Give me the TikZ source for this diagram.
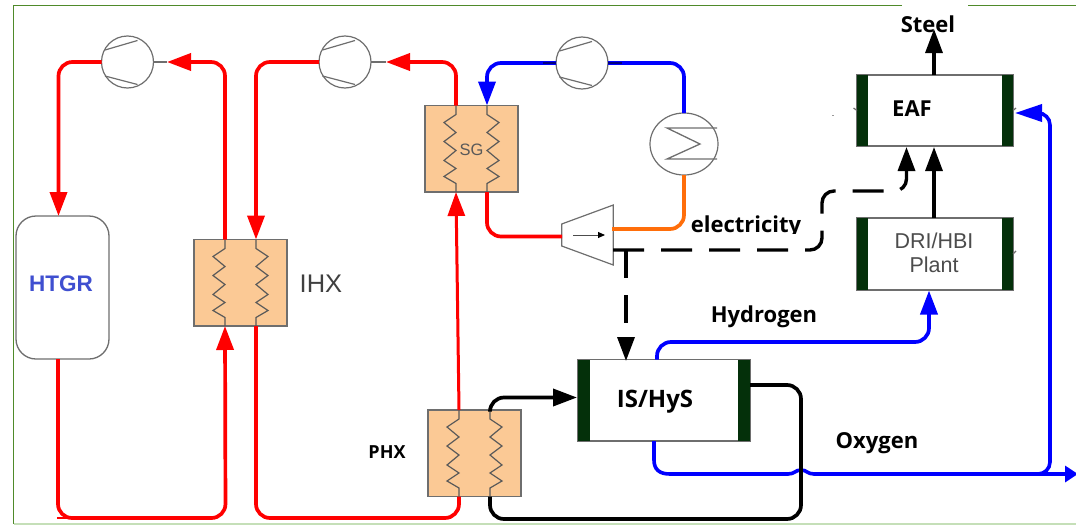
\documentclass[tikz,border=0pt]{standalone}
\usepackage{fontspec}
\setmainfont{Liberation Sans}
\newfontfamily\labfont{Open Sans}
\usetikzlibrary{arrows.meta,calc,shapes.geometric}
\definecolor{hxfill}{HTML}{FBC995}
\definecolor{edgegray}{HTML}{6E6E6E}
\definecolor{barg}{HTML}{04300A}
\definecolor{framegreen}{HTML}{4F8A2A}
\definecolor{framelight}{HTML}{C5DFB8}
\definecolor{htgrblue}{HTML}{3F4FD0}
\tikzset{
  x=1pt,y=-1pt,
  bigtip/.style={-{Triangle[length=24pt,width=17pt]}},
  pipe/.style={line width=3.7pt,rounded corners=14pt},
  redp/.style={pipe,draw=red},
  bluep/.style={pipe,draw=blue},
  orangep/.style={pipe,draw={rgb,255:red,255;green,110;blue,10}},
  blackp/.style={pipe,draw=black},
  dashp/.style={line width=3.4pt,draw=black,dash pattern=on 31pt off 17pt,rounded corners=12pt},
  hxbox/.style={draw=edgegray,fill=hxfill,line width=1.3pt,minimum width=93pt,minimum height=86.5pt,inner sep=0pt,outer sep=0pt},
  coilline/.style={draw=black!65,line width=1.2pt,line join=miter},
  compc/.style={circle,draw=edgegray,line width=1.2pt,minimum size=52pt,inner sep=0pt,outer sep=0pt},
  reactor/.style={draw=edgegray,fill=white,line width=1.3pt,inner sep=0pt,outer sep=0pt},
  boldlab/.style={font=\labfont\bfseries\fontsize{22}{25}\selectfont,text=black,inner sep=0pt},
  stub/.style={draw=edgegray,line width=1.2pt},
}
\newcommand{\hxunit}[3]{%
  \begin{scope}[shift={(#2,#3)}]
    \node[hxbox] (#1) at (46.5,43.25) {};
    \coordinate (#1tl) at (31,0);
    \coordinate (#1tr) at (62,0);
    \coordinate (#1bl) at (31,86.5);
    \coordinate (#1br) at (62,86.5);
    \draw[coilline] (31,0)--(31,9)--(19,17)--(31,27)--(19,36)--(31,45)--(19,55)--(31,63)--(19,71)--(31,78)--(31,86.5);
    \draw[coilline] (62,0)--(62,9)--(74,17)--(62,27)--(74,36)--(62,45)--(74,55)--(62,63)--(74,71)--(62,78)--(62,86.5);
  \end{scope}}
\newcommand{\compunit}[3]{%
  \node[compc] (#1) at (#2,#3) {};
  \begin{scope}[shift={(#2,#3)}]
    \draw[edgegray,line width=1.2pt] (-22.5,-12)--(10,-21.5);
    \draw[edgegray,line width=1.2pt] (-22.5,14)--(10,22.5);
  \end{scope}}
\newcommand{\plantunit}[6]{%
  \node[reactor,minimum width=#4pt,minimum height=#5pt] (#1) at (#2,#3) {};
  \fill[barg] ($(#1.north west)$) rectangle ++(#6,#5);
  \fill[barg] ($(#1.north east)$) rectangle ++(-#6,#5);}
\begin{document}
\begin{tikzpicture}
\useasboundingbox (0,0) rectangle (1076,525);
% frame
\draw[framegreen,line width=1.6pt] (1076,5.5)--(968,5.5);
\draw[framegreen,line width=1.6pt] (902,5.5)--(13.5,5.5)--(13.5,524);
\draw[framelight,line width=1.2pt] (13.5,524)--(1076,524);
% reactor
\node[draw=edgegray,fill=white,rounded corners=20pt,line width=1.3pt,minimum width=93pt,minimum height=143pt,inner sep=0pt,outer sep=0pt] (htgr) at (62.5,287.5) {};
\node[font=\bfseries\fontsize{22.5}{25}\selectfont,text=htgrblue,inner sep=0pt] (htgrlab) at (61,284) {HTGR};
% heat exchangers
\hxunit{ihx}{194}{239.5}
\hxunit{sg}{425}{105.5}
\hxunit{phx}{428}{410}
\node[font=\fontsize{16.5}{18}\selectfont,text=black!65,inner sep=0pt] (sglab) at (471.5,150) {SG};
\node[font=\fontsize{25.5}{28}\selectfont,text=black!75,inner sep=0pt] (ihxlab) at (321,284) {IHX};
\node[boldlab,font=\labfont\bfseries\fontsize{18}{20}\selectfont] (phxlab) at (387,452) {PHX};
% compressors and condenser
\compunit{c1}{127.5}{62}
\compunit{c2}{345}{62}
\compunit{c3}{582}{63}
\node[ellipse,draw=edgegray,line width=1.2pt,minimum width=68pt,minimum height=62pt,inner sep=0pt,outer sep=0pt] (cond) at (684,144) {};
\draw[edgegray,line width=1.3pt] (717,128)--(667,128)--(700,144)--(667,159)--(717,159);
% turbine
\coordinate (tA) at (561.7,224);
\coordinate (tB) at (613.3,205);
\coordinate (tC) at (613.3,265);
\coordinate (tD) at (561.7,246);
\draw[edgegray,line width=1.2pt] (tA)--(tB)--(tC)--(tD)--cycle;
\coordinate (tin) at (562,236.5);
\coordinate (tout) at (612,229);
\coordinate (tel) at (613,250);
\coordinate (tarrA) at (573,235);
\coordinate (tarrB) at (605,235);
\draw[black!70,line width=1pt,-{Triangle[length=7pt,width=6pt,color=black]}] (tarrA)--(tarrB);
% plants
\plantunit{eaf}{935}{110.5}{156}{71}{11}
\plantunit{dri}{935}{254}{156}{72}{11}
\plantunit{is}{664}{400.25}{172}{81.5}{12}
\node[boldlab] (eaflab) at (912,108.5) {EAF};
\node[font=\fontsize{21.5}{24}\selectfont,text=black!70,align=center,inner sep=0pt] (drilab) at (934,253) {DRI/HBI\\Plant};
\node[boldlab,font=\labfont\bfseries\fontsize{24}{26}\selectfont] (islab) at (655,402) {IS/HyS};
% small ticks
\draw[stub] (853.5,108)--(eaf.west);
\draw[stub] (eaf.east)--(1016,108);
\draw[stub] (dri.east)--(1016,251);
\draw[stub] (c1.east)--(167,62);
\draw[stub] (c2.east)--(386,62);
\fill[black!40] (832,114.5) rectangle +(2,1.2);
% outer loop
\coordinate (htin) at (58.5,216);
\coordinate (htout) at (58,359);
\coordinate (c1r) at (167,62);
\coordinate (c2r) at (386,62);
\coordinate (obl) at (58,518);
\coordinate (obr) at (225.5,518);
\draw[redp,bigtip] (c1.west) -| (htin);
\draw[redp,bigtip] (ihxtl) |- (c1r);
\draw[redp,bigtip] (htout) -- (obl) -- (obr) -- (ihxbl);
\draw[red,line width=2.6pt] (57,518) -- (90,518);
% inner loop
\coordinate (ibl) at (256,518);
\coordinate (ibr) at (459,518);
\draw[redp,bigtip] (c2.west) -| (ihxtr);
\draw[redp,bigtip] (sgtl) |- (c2r);
\draw[redp] (ihxbr) -- (ibl) -- (ibr) -- (phxbl);
\draw[redp,line width=3pt,bigtip,rounded corners=0pt] (phxtl) -- (sgbl);
% steam loop
\draw[bluep,bigtip] (c3.west) -| (sgtr);
\draw[bluep] (cond.north) |- (c3.east);
\draw[blue!50!black,line width=1.3pt] (c3.east)--+(14,0);
\draw[blue!50!black,line width=1.3pt] (c3.west)--+(-13,0);
\draw[orangep] (cond.south) |- (tout);
\draw[redp] (sgbr) |- (tin);
% electricity
\coordinate (eafelec) at (906.5,147);
\coordinate (istop) at (626,361);
\coordinate (bendA) at (822,250);
\coordinate (bendB) at (822,191);
\coordinate (bendC) at (906.5,191);
\draw[dashp,bigtip] (tel) -- (bendA) -- (bendB) -- (bendC) -- (eafelec);
\draw[line width=3.4pt,dash pattern=on 28pt off 17pt,-{Triangle[length=24pt,width=17pt]}] (626,250) -- (istop);
% steel and DRI
\coordinate (steelout) at (934,29);
\draw[line width=3.2pt,bigtip] (934,75) -- (steelout);
\draw[line width=3.2pt,bigtip] (934,218) -- (934,147);
% hydrogen
\coordinate (isH) at (657,359.5);
\coordinate (driin) at (929,290.5);
\coordinate (hcorner) at (929,342);
\draw[bluep,bigtip] (isH) |- (hcorner) -- (driin);
% oxygen
\coordinate (isO) at (654,441);
\coordinate (oxend) at (1078,474);
\coordinate (eafin) at (1015,113);
\draw[line width=3.6pt,draw=blue] (isO) -- (654,460) .. controls (654,470) and (660,474) .. (670,474) -- (788,474) .. controls (795,474) and (795,470) .. (801,470) .. controls (807,470) and (807,474) .. (814,474) -- (1030,474);
\draw[draw=blue,line width=3.6pt,-{Triangle[length=13pt,width=16pt]}] (1030,474) -- (oxend);
\draw[draw=blue,line width=3.6pt,rounded corners=12pt,-{Triangle[length=27pt,width=17pt]}] (1036,474) -- (1050,474) -- (1050,113) -- (eafin);
% process heat
\coordinate (isin) at (577,397.5);
\coordinate (isback) at (750,385);
\coordinate (backc) at (801,519);
\draw[blackp,bigtip] (phxtr) |- (isin);
\draw[blackp] (phxbr) |- (backc) |- (isback);
% labels
\node[boldlab] (steel) at (928,24) {Steel};
\begin{scope}
\clip (680,205) rectangle (815,233.5);
\node[boldlab] (elec) at (746,226.5) {electricity};
\end{scope}
\node[boldlab] (hyd) at (764,317) {Hydrogen};
\node[boldlab] (oxy) at (877,443) {Oxygen};
\end{tikzpicture}
\end{document}
